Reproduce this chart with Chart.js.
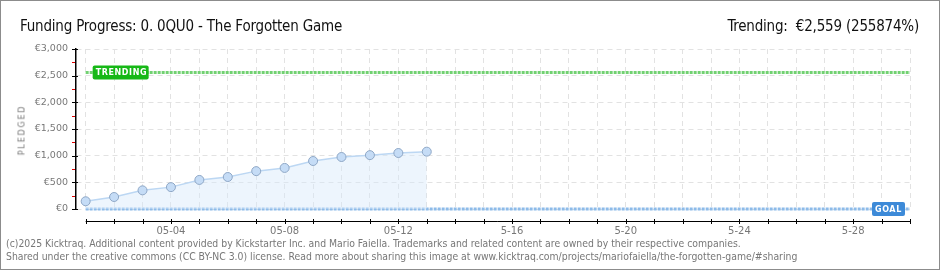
<!DOCTYPE html>
<html>
<head>
<meta charset="utf-8">
<script src="https://cdn.jsdelivr.net/npm/chart.js@4/dist/chart.umd.min.js"></script>
<style>
  body { margin: 0; width: 940px; height: 270px; overflow: hidden; background: #fff; position: relative; }
  #frame { position: absolute; left: 0; top: 0; width: 940px; height: 270px; box-sizing: border-box; border: 1px solid #8c8c8c; }
  #chart { position: absolute; left: 0; top: 0; }
  .title { position: absolute; top: 17px; font-family: "Liberation Sans Narrow", "DejaVu Sans Condensed", sans-serif; font-size: 15px; letter-spacing: -0.2px; color: #111; white-space: nowrap; }
  #ylab { position: absolute; left: 22px; top: 130px; transform: translate(-50%, -50%) rotate(-90deg); font-family: "DejaVu Sans", sans-serif; font-size: 8px; letter-spacing: 1.8px; color: #777; }
  .foot { position: absolute; left: 6px; font-family: "DejaVu Sans Condensed", sans-serif; font-size: 10.35px; color: #777; white-space: nowrap; }
</style>
</head>
<body>
<canvas id="chart" width="940" height="270"></canvas>
<div class="title" style="left:20px">Funding Progress: 0. 0QU0 - The Forgotten Game</div>
<div class="title" style="right:21px">Trending:&nbsp; €2,559 (255874%)</div>
<div id="ylab">PLEDGED</div>
<div class="foot" style="top:237px">(c)2025 Kicktraq. Additional content provided by Kickstarter Inc. and Mario Faiella. Trademarks and related content are owned by their respective companies.</div>
<div class="foot" style="top:250px">Shared under the creative commons (CC BY-NC 3.0) license. Read more about sharing this image at www.kicktraq.com/projects/mariofaiella/the-forgotten-game/#sharing</div>
<div id="frame"></div>
<script>
// campaign days (05-01 .. 05-30)
const days = [];
for (let d = 1; d <= 30; d++) days.push("05-" + String(d).padStart(2, "0"));

// labelled x ticks (day index -> text)
const tickLabels = { 3: "05-04", 7: "05-08", 11: "05-12", 15: "5-16", 19: "5-20", 23: "5-24", 27: "5-28" };

// pledged per day
const pledged = [145, 225, 350, 410, 545, 600, 710, 770, 900, 975, 1010, 1050, 1075];

const trending = 2559;
const goal = 1;
const yTicks = [0, 250, 500, 750, 1000, 1250, 1500, 1750, 2000, 2250, 2500, 2750, 3000];

// labels on the trending / goal lines, y tick marks and the detached x axis line
const markerPlugin = {
  id: "markers",
  afterDatasetsDraw(chart) {
    const ctx = chart.ctx;
    const x = chart.scales.x;
    const y = chart.scales.y;

    function tag(text, left, yVal, w, fill) {
      const cy = y.getPixelForValue(yVal);
      ctx.save();
      ctx.fillStyle = fill;
      ctx.beginPath();
      ctx.roundRect(left, cy - 7, w, 14, 2);
      ctx.fill();
      ctx.fillStyle = "#fff";
      ctx.font = "bold 8px 'DejaVu Sans', sans-serif";
      ctx.letterSpacing = "0.6px";
      ctx.textBaseline = "middle";
      ctx.fillText(text, left + 3, cy + 0.5);
      ctx.restore();
    }
    tag("TRENDING", x.getPixelForValue(0) + 7, trending, 56, "#16b816");
    tag("GOAL", x.getPixelForValue(29) - 38, goal, 33, "#3d8ad8");

    // y tick marks: black on every 500, red in between
    const ax = Math.round(y.right);
    ctx.save();
    ctx.lineWidth = 1;
    yTicks.forEach((v) => {
      const py = Math.round(y.getPixelForValue(v)) + 0.5;
      const major = v % 500 === 0;
      ctx.strokeStyle = major ? "#000" : "#e00000";
      ctx.beginPath();
      ctx.moveTo(ax - 4, py);
      ctx.lineTo(major ? ax + 2 : ax - 1, py);
      ctx.stroke();
    });

    // x axis line below the plot
    const ay = 221;
    ctx.strokeStyle = "#000";
    ctx.beginPath();
    ctx.moveTo(x.getPixelForValue(0), ay + 0.5);
    ctx.lineTo(x.getPixelForValue(days.length - 1), ay + 0.5);
    days.forEach((d, i) => {
      const px = Math.round(x.getPixelForValue(i)) + 0.5;
      ctx.moveTo(px, ay - 2);
      ctx.lineTo(px, ay + 3);
    });
    ctx.stroke();
    ctx.restore();
  }
};

new Chart(document.getElementById("chart"), {
  type: "line",
  data: {
    datasets: [
      {
        label: "Pledged",
        data: pledged.map((v, i) => ({ x: i, y: v })),
        borderColor: "#bcd7f3",
        borderWidth: 1.5,
        backgroundColor: "rgba(214, 232, 250, 0.45)",
        fill: "origin",
        pointRadius: 4.5,
        pointBackgroundColor: "#c5dcf6",
        pointBorderColor: "#8ea7c6",
        pointBorderWidth: 1,
        tension: 0
      },
      {
        label: "Trending",
        data: [{ x: 0, y: trending }, { x: days.length - 1, y: trending }],
        borderColor: "#72d172",
        borderWidth: 3,
        borderDash: [3, 1],
        pointRadius: 0,
        fill: false
      },
      {
        label: "Goal",
        data: [{ x: 0, y: goal }, { x: days.length - 1, y: goal }],
        borderColor: "#8dbbe9",
        borderWidth: 3,
        borderDash: [3, 1],
        pointRadius: 0,
        fill: false,
        clip: false
      }
    ]
  },
  options: {
    responsive: false,
    animation: false,
    layout: { padding: { top: 49, right: 30, left: 0, bottom: 0 } },
    plugins: { legend: { display: false }, tooltip: { enabled: false } },
    scales: {
      x: {
        type: "linear",
        min: -0.34,
        max: days.length - 1,
        afterBuildTicks: (scale) => { scale.ticks = days.map((d, i) => ({ value: i })); },
        afterFit: (scale) => { scale.height = 61; },
        grid: { color: "#e2e2e2", drawTicks: false },
        border: { display: false, dash: [5, 4] },
        ticks: {
          padding: 16,
          maxRotation: 0,
          autoSkip: false,
          color: "#777",
          font: { family: "'DejaVu Sans', sans-serif", size: 10 },
          callback: (v) => tickLabels[v] || ""
        }
      },
      y: {
        min: 0,
        max: 3000,
        afterBuildTicks: (scale) => { scale.ticks = yTicks.map((v) => ({ value: v })); },
        afterFit: (scale) => { scale.width = 76; },
        grid: {
          color: (c) => (c.tick && c.tick.value % 500 === 0 ? "#e2e2e2" : "rgba(0,0,0,0)"),
          drawTicks: false
        },
        border: { display: true, color: "#000", width: 1.5, dash: [5, 4] },
        ticks: {
          padding: 8,
          autoSkip: false,
          color: "#777",
          font: { family: "'DejaVu Sans', sans-serif", size: 9.5 },
          callback: (v) => (v % 500 === 0 ? "€" + v.toLocaleString("en-US") : "")
        }
      }
    }
  },
  plugins: [markerPlugin]
});
</script>
</body>
</html>
